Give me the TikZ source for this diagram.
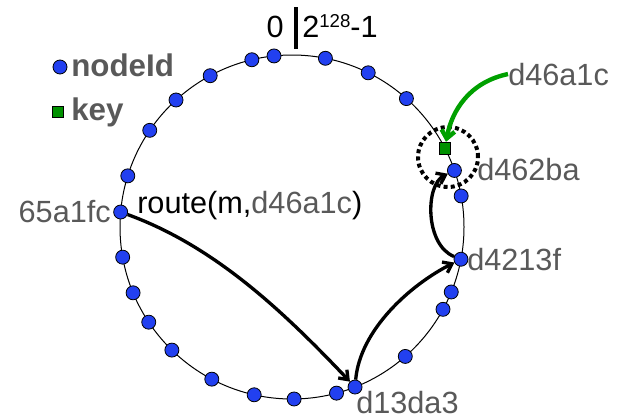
\documentclass[tikz,border=0pt]{standalone}
\usepackage{fontspec}
\setmainfont{Liberation Sans}
\usetikzlibrary{calc,arrows.meta}
\definecolor{peerblue}{RGB}{34,64,240}
\definecolor{keygreen}{RGB}{0,145,0}
\definecolor{lookupgreen}{RGB}{0,160,0}
\definecolor{idgray}{RGB}{89,89,89}

\begin{document}
\begin{tikzpicture}[x=0.75pt,y=0.75pt,yscale=-1,xscale=1,
  peer/.style={circle,draw=black,line width=0.6pt,fill=peerblue,inner sep=0pt,minimum size=10.5pt},
  keybox/.style={rectangle,draw=black,line width=0.6pt,fill=keygreen,inner sep=0pt,minimum size=8.8pt},
  idtext/.style={inner sep=0pt,text=idgray,font=\fontsize{23}{27}\selectfont},
  plaintext/.style={inner sep=0pt,font=\fontsize{23}{27}\selectfont},
  legendtext/.style={inner sep=0pt,text=idgray,font=\fontsize{23.5}{27}\selectfont\bfseries},
  hop/.style={line width=2.5pt,-{Straight Barb[length=6pt,width=9pt]}},
  lookup/.style={line width=3.3pt,draw=lookupgreen,-{Straight Barb[length=6pt,width=10pt]}}]
\useasboundingbox (0,0) rectangle (624,418);

%Ring
\coordinate (ring) at (292,227);
\draw [line width=0.75pt] (ring) circle [radius=172];
%Zero mark
\draw [line width=3pt] (296,7) -- (296,49);
%Key zone
\node [circle,draw,line width=3pt,dash pattern=on 3pt off 2.4pt,minimum size=45pt] (zone) at (448,157) {};

%Peers on the ring
\node [peer] (p1) at ($(ring)+(-118.4:172)$) {};
\node [peer] (p2) at ($(ring)+(-103.5:172)$) {};
\node [peer] (p3) at ($(ring)+(-96.0:172)$) {};
\node [peer] (p4) at ($(ring)+(-78.8:172)$) {};
\node [peer] (p5) at ($(ring)+(-63.7:172)$) {};
\node [peer] (p6) at ($(ring)+(-48.3:172)$) {};
\node [keybox] (key) at ($(ring)+(-27.3:172)$) {};
\node [peer] (nd462ba) at ($(ring)+(-19.2:172)$) {};
\node [peer] (p7) at ($(ring)+(-10.4:172)$) {};
\node [peer] (nd4213f) at ($(ring)+(10.8:172)$) {};
\node [peer] (p8) at ($(ring)+(22.2:172)$) {};
\node [peer] (p9) at ($(ring)+(28.6:172)$) {};
\node [peer] (p10) at ($(ring)+(48.8:172)$) {};
\node [peer] (nd13da3) at ($(ring)+(68.5:172)$) {};
\node [peer] (p11) at ($(ring)+(75.0:172)$) {};
\node [peer] (p12) at ($(ring)+(89.3:172)$) {};
\node [peer] (p13) at ($(ring)+(102.7:172)$) {};
\node [peer] (p14) at ($(ring)+(117.8:172)$) {};
\node [peer] (p15) at ($(ring)+(134.3:172)$) {};
\node [peer] (p16) at ($(ring)+(146.4:172)$) {};
\node [peer] (p17) at ($(ring)+(157.5:172)$) {};
\node [peer] (p18) at ($(ring)+(169.9:172)$) {};
\node [peer] (n65a1fc) at ($(ring)+(185.0:172)$) {};
\node [peer] (p19) at ($(ring)+(197.3:172)$) {};
\node [peer] (p20) at ($(ring)+(214.2:172)$) {};
\node [peer] (p21) at ($(ring)+(227.6:172)$) {};

%Legend
\node [peer] (legpeer) at (60,67) {};
\node [keybox] (legkey) at (58,112) {};

% Text Node
\node [plaintext,anchor=base east] (zero) at (284,37) {0};
% Text Node
\node [plaintext,anchor=base west] (top) at (302,37) {2\raisebox{7.5pt}{\fontsize{14}{14}\selectfont 128}-1};
% Text Node
\node [legendtext,anchor=base west] (legpeertext) at (71,76) {nodeId};
% Text Node
\node [legendtext,anchor=base west] (legkeytext) at (71,120) {key};
% Text Node
\node [idtext,anchor=base west] (ld46a1c) at (508,85) {d46a1c};
% Text Node
\node [idtext,anchor=base west] (ld462ba) at (477,180) {d462ba};
% Text Node
\node [idtext,anchor=base west] (ld4213f) at (467,270) {d4213f};
% Text Node
\node [idtext,anchor=base west] (ld13da3) at (356,413) {d13da3};
% Text Node
\node [idtext,anchor=base east] (l65a1fc) at (111,222) {65a1fc};
% Text Node
\node [plaintext,anchor=base west] (route) at (137,213) {route(m,\textcolor{idgray}{d46a1c})};

%Curve Lines
\draw [lookup] (ld46a1c.west) .. controls (470,82) and (452,110) .. (key);
%Curve Lines
\draw [hop] (n65a1fc) .. controls (214,246) and (282,310) .. (nd13da3);
%Curve Lines
\draw [hop] (nd13da3) .. controls (360,330) and (410,285) .. (nd4213f);
%Curve Lines
\draw [hop] (nd4213f) .. controls (425,245) and (425,185) .. (nd462ba);

\end{tikzpicture}
\end{document}
